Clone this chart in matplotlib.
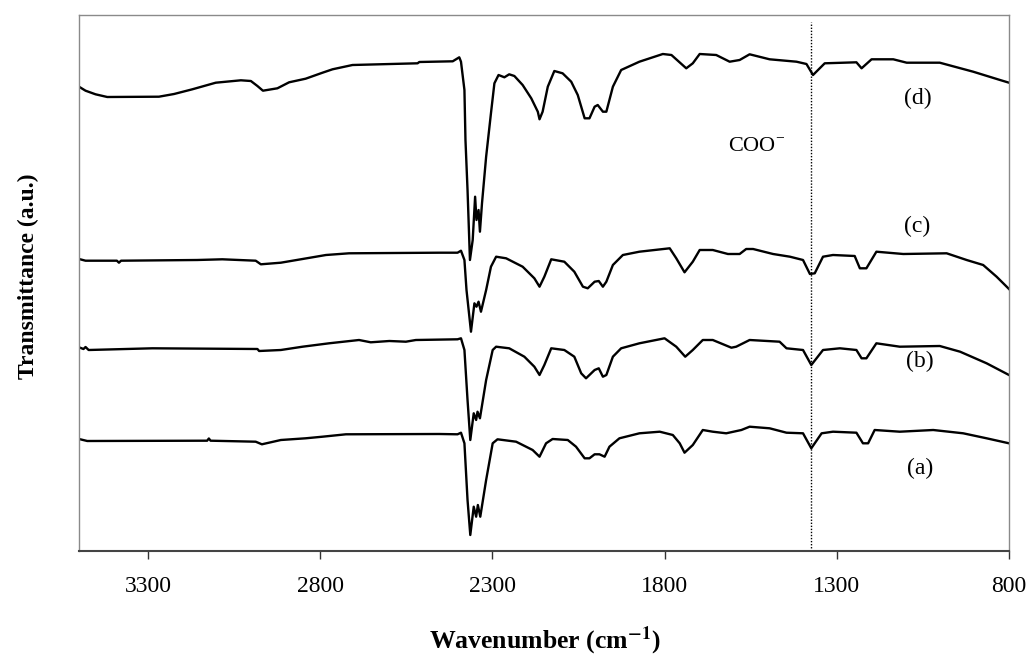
import matplotlib
matplotlib.use("Agg")
import matplotlib.pyplot as plt

plt.rcParams['font.family'] = ['Liberation Serif', 'DejaVu Serif']
plt.rcParams['mathtext.fontset'] = 'stix'

# ---- data (wavenumber cm^-1, transmittance a.u.) ----
wn_d = [3500, 3481, 3452, 3418, 3268, 3224, 3171, 3103, 3030, 3001, 2982, 2966, 2924, 2890, 2842,
        2793, 2764, 2706, 2517, 2512, 2415, 2396, 2391, 2381, 2378, 2372, 2365, 2357, 2350, 2346,
        2340, 2336, 2330, 2318, 2304, 2294, 2282, 2265, 2251, 2236, 2212, 2187, 2168, 2163, 2154,
        2139, 2120, 2096, 2071, 2052, 2032, 2018, 2003, 1994, 1979, 1969, 1950, 1926, 1873, 1805,
        1780, 1737, 1718, 1698, 1650, 1611, 1582, 1553, 1495, 1417, 1388, 1369, 1335, 1243, 1228,
        1199, 1136, 1097, 1001, 904, 826, 800]
t_d = [464.3, 460.3, 456.7, 454, 454.3, 457, 461.7, 468.3, 470.7, 470, 465, 460.3, 462.7, 468.7, 472.3,
       478.3, 481.7, 486, 487.7, 489, 489.7, 493.7, 489.3, 461, 411, 361, 291, 311, 354.3, 331,
       341, 319.3, 347.7, 394.3, 437.7, 467.7, 476, 473.7, 476.7, 475, 466, 452.7, 439.3, 431.7, 439.3,
       464.3, 480, 477.7, 469.3, 456, 432.7, 432.7, 444.3, 446, 439.3, 439.3, 464.3, 481, 489.3, 497,
       496, 482.7, 487.7, 497, 496, 489.3, 491, 496.7, 491.7, 489.3, 487, 476, 487.7, 488.7, 482.7,
       491.7, 491.7, 488.3, 488.3, 479.3, 471, 468.3]

wn_c = [3500, 3481, 3390, 3384, 3378, 3157, 3084, 2987, 2972, 2914, 2851, 2783, 2716, 2454, 2401,
        2391, 2381, 2375, 2362, 2352, 2346, 2340, 2333, 2318, 2304, 2289, 2260, 2212, 2178, 2163,
        2149, 2129, 2091, 2062, 2037, 2023, 2003, 1991, 1979, 1969, 1950, 1921, 1873, 1785, 1766,
        1742, 1718, 1698, 1660, 1616, 1582, 1563, 1543, 1485, 1436, 1398, 1378, 1364, 1340, 1311,
        1248, 1233, 1214, 1185, 1107, 981, 923, 875, 836, 800]
t_c = [292, 290.3, 290.3, 288.3, 290.3, 291, 291.7, 290.3, 286.7, 288.3, 292, 296, 297.7, 298.3, 298.3,
       300.3, 291, 261, 219.3, 247.7, 244.3, 249.3, 239.3, 261, 284.3, 294.3, 292.7, 284.3, 272.7, 264.3,
       274.3, 291.7, 289.3, 279.3, 264.3, 262.7, 269.3, 270, 264.3, 269.3, 286, 296, 299.3, 302.7, 292.7,
       278.7, 289.3, 301, 301, 297, 297, 302, 302, 297, 294.3, 291, 277, 277.7, 294.3, 296,
       295, 282.7, 282.7, 299.3, 297, 297.7, 291, 286, 274.3, 262]

wn_b = [3500, 3487, 3481, 3472, 3287, 2982, 2977, 2914, 2851, 2774, 2687, 2653, 2599, 2551, 2522,
        2401, 2391, 2381, 2372, 2364, 2354, 2347, 2343, 2336, 2318, 2299, 2289, 2251, 2207, 2178,
        2163, 2149, 2129, 2091, 2062, 2042, 2028, 2003, 1991, 1979, 1969, 1950, 1926, 1873, 1800,
        1766, 1740, 1718, 1689, 1660, 1606, 1592, 1553, 1466, 1446, 1398, 1374, 1340, 1291, 1243,
        1228, 1214, 1185, 1117, 1001, 942, 865, 800]
t_b = [203.7, 202, 204, 201, 202.7, 202, 200, 201, 204.3, 207.7, 211, 208.7, 210, 209.3, 211,
       211.7, 212.7, 201, 151, 111, 137.7, 131, 139.3, 132.7, 171, 201, 204.3, 202.7, 194.3, 184.3,
       176, 186, 202.7, 201, 194.3, 177.7, 172.7, 181, 182.7, 174.3, 176, 194.3, 202.7, 207.7, 212.7,
       204.3, 194.3, 201, 211, 211, 203.3, 204.3, 211, 209.3, 202.7, 201, 186, 201, 202.7, 201,
       192.7, 192.7, 207.7, 204.3, 205, 199.3, 187.7, 176]

wn_a = [3500, 3476, 3128, 3123, 3118, 2987, 2969, 2914, 2842, 2793, 2725, 2454, 2401, 2391, 2381,
        2372, 2364, 2354, 2347, 2342, 2335, 2318, 2299, 2285, 2231, 2183, 2163, 2144, 2125, 2081,
        2057, 2032, 2018, 2003, 1989, 1974, 1960, 1931, 1873, 1814, 1776, 1756, 1742, 1718, 1689,
        1660, 1621, 1577, 1553, 1495, 1446, 1398, 1374, 1344, 1311, 1243, 1224, 1209, 1190, 1117,
        1020, 933, 865, 800]
t_a = [112, 110, 110.3, 112.5, 110.3, 109.3, 106.7, 111, 112.7, 114.3, 116.7, 117, 116.7, 118.3, 107.7,
       51, 16, 44.3, 34.3, 46, 34.3, 71, 107.7, 111.7, 109.3, 101, 94.3, 107.7, 112, 111,
       104.3, 92.7, 92.7, 96.7, 96.7, 94.3, 104.3, 112.7, 117.7, 119.3, 116, 107.7, 98.3, 106, 121,
       119.3, 117.7, 121, 124.3, 122.7, 118.3, 117.7, 102.7, 117.7, 119.3, 118.3, 107.7, 107.7, 121, 119.3,
       121, 117.7, 112.7, 107.7]

series = [(wn_a, t_a), (wn_b, t_b), (wn_c, t_c), (wn_d, t_d)]
labels = ['(a)', '(b)', '(c)', '(d)']
label_pos = [(1059, 82.7), (1059, 189.3), (1068, 324.3), (1064, 452.7)]
coo_wn = 1376
xticks = [3300, 2800, 2300, 1800, 1300, 800]

fig = plt.figure(figsize=(10.33, 6.57), dpi=100)
ax = fig.add_axes([79/1033, 1-551/657, 930/1033, 536/657])

for wn, t in series:
    ax.plot(wn, t, color='black', lw=1.7, solid_joinstyle='round')

ax.axvline(coo_wn, ymin=0, ymax=529/536, color='black', lw=1.0, linestyle=(0, (1, 1.2)))

for lab, (x, y) in zip(labels, label_pos):
    ax.text(x, y, lab, fontsize=17, ha='center', va='center')
ax.text(1533, 404.3, r'COO$^{\mathregular{-}}$', fontsize=16, ha='center', va='center')

ax.set_xlim(3500, 800)
ax.set_ylim(0, 536)
ax.set_xticks(xticks)
ax.set_xticklabels([str(v) for v in xticks], fontsize=17)
ax.set_yticks([])
ax.tick_params(axis='x', direction='out', length=6, width=1, color='#333333', pad=12)

for s in ['top', 'right', 'left']:
    ax.spines[s].set_color('#8a8a8a')
    ax.spines[s].set_linewidth(1.0)
ax.spines['bottom'].set_color('#444444')
ax.spines['bottom'].set_linewidth(1.5)

ax.set_xlabel(r'Wavenumber (cm$^{\mathbf{-1}}$)', fontsize=18.5, fontweight='bold')
ax.xaxis.label.set_va('center')
ax.xaxis.set_label_coords((545-79)/930, (551-641)/536)
ax.set_ylabel('Transmittance (a.u.)', fontsize=17, fontweight='bold')
ax.yaxis.label.set_va('center')
ax.yaxis.set_label_coords((28-79)/930, (551-276)/536)

fig.savefig('out.png', dpi=100)
